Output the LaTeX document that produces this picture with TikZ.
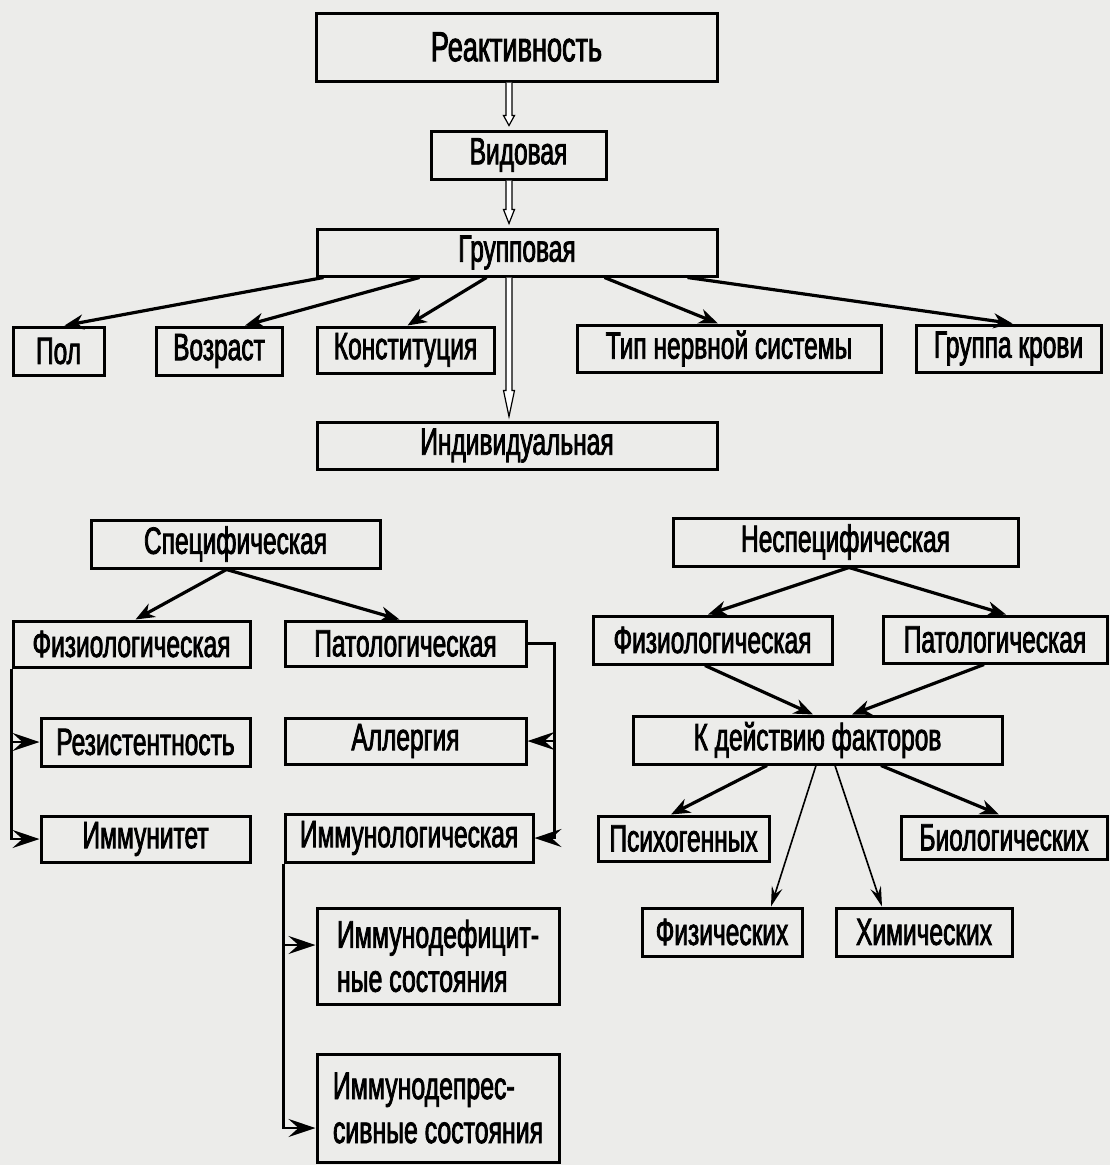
\documentclass[tikz,border=0pt]{standalone}
\usepackage{fontspec}
\setmainfont{Liberation Sans}[FakeStretch=0.645,FakeBold=2]
\usetikzlibrary{arrows.meta,calc}
\definecolor{paper}{RGB}{236,236,234}
\tikzset{
 box/.style={draw, line width=3pt, inner sep=0pt, font=\fontsize{38}{44}\selectfont},
 bigtext/.style={font=\fontsize{42}{48}\selectfont},
 twoline/.style={align=left, font=\fontsize{38.5}{44}\selectfont},
 fatarrow/.style={line width=3.2pt, -{Stealth[length=19pt,width=15pt,inset=6pt]}},
 slimarrow/.style={line width=1.6pt, -{Stealth[length=20pt,width=11pt,inset=7pt]}},
 bracketarrow/.style={line width=2.4pt, -{Stealth[length=27pt,width=18pt,inset=10pt]}},
 hollowstyle/.style={line width=1.2pt, fill=white},
}
\newcommand\hollowarr[3]{%
 \draw[hollowstyle] ($(#1.south -| ax)+(-3,0)$) -- ($(#2.north -| ax)+(-3,-#3-4)$)
  -- ($(#2.north -| ax)+(-5.5,-#3-4)$) -- ($(#2.north -| ax)+(0,-4)$)
  -- ($(#2.north -| ax)+(5.5,-#3-4)$) -- ($(#2.north -| ax)+(3,-#3-4)$)
  -- ($(#1.south -| ax)+(3,0)$);}
\begin{document}
\begin{tikzpicture}[x=1pt,y=-1pt]
\useasboundingbox (0,0) rectangle (1110,1165);
\fill[paper] (0,0) rectangle (1110,1165);
\coordinate (ax) at (509,0);
% top
\node[box,bigtext,minimum width=401,minimum height=68] (react) at (516.5,47) {Реактивность};
\node[box,minimum width=175,minimum height=48] (vid) at (518.5,155) {Видовая};
\node[box,minimum width=400,minimum height=47] (grp) at (517,252.5) {Групповая};
\node[box,minimum width=91,minimum height=48] (pol) at (58.5,351) {Пол};
\node[box,minimum width=126,minimum height=48] (voz) at (219,351) {Возраст};
\node[box,minimum width=177,minimum height=46] (kon) at (405.5,350) {Конституция};
\node[box,minimum width=304,minimum height=47] (tip) at (729,348.5) {Тип нервной системы};
\node[box,minimum width=185,minimum height=47] (krov) at (1008.5,348.5) {Группа крови};
\node[box,minimum width=400,minimum height=47] (ind) at (517,445.5) {Индивидуальная};
% specific
\node[box,minimum width=289,minimum height=48] (spec) at (235.5,544) {Специфическая};
\node[box,minimum width=237,minimum height=46] (fiz1) at (131.5,644) {Физиологическая};
\node[box,minimum width=241,minimum height=45] (pat1) at (405.5,643.5) {Патологическая};
\node[box,minimum width=209,minimum height=48] (rez) at (145.5,742) {Резистентность};
\node[box,minimum width=241,minimum height=46] (all) at (405.5,741) {Аллергия};
\node[box,minimum width=209,minimum height=46] (imm) at (145.5,839) {Иммунитет};
\node[box,minimum width=248,minimum height=48] (imn) at (409,838) {Иммунологическая};
\node[box,twoline,minimum width=242,minimum height=96] (imd) at (438,956) {Иммунодефицит-\\ные состояния};
\node[box,twoline,minimum width=242,minimum height=108] (imp) at (438,1108) {Иммунодепрес-\\сивные состояния};
% nonspecific
\node[box,minimum width=345,minimum height=48] (nspec) at (845.5,542) {Неспецифическая};
\node[box,minimum width=239,minimum height=48] (fiz2) at (712.5,640) {Физиологическая};
\node[box,minimum width=224,minimum height=47] (pat2) at (995,639.5) {Патологическая};
\node[box,minimum width=369,minimum height=48] (kd) at (817.5,740) {К действию факторов};
\node[box,minimum width=171,minimum height=45] (psy) at (683.5,838.5) {Психогенных};
\node[box,minimum width=206,minimum height=43] (bio) at (1004,837.5) {Биологических};
\node[box,minimum width=160,minimum height=48] (fis) at (722,932) {Физических};
\node[box,minimum width=176,minimum height=48] (him) at (924,932) {Химических};
% hollow arrows
\hollowarr{react}{vid}{10}
\hollowarr{vid}{grp}{14}
\hollowarr{grp}{ind}{26}
% group arrows
\draw[fatarrow] ([xshift=8pt]grp.south west) -- ([xshift=6pt]pol.north);
\draw[fatarrow] ([xshift=104pt]grp.south west) -- ([xshift=26pt]voz.north);
\draw[fatarrow] ([xshift=171pt]grp.south west) -- ([xshift=2pt]kon.north);
\draw[fatarrow] ([xshift=289pt]grp.south west) -- ([xshift=-11pt]tip.north);
\draw[fatarrow] ([xshift=372pt]grp.south west) -- ([xshift=4pt]krov.north);
% specific arrows
\draw[fatarrow] ([xshift=-9pt]spec.south) -- ([xshift=4pt]fiz1.north);
\draw[fatarrow] ([xshift=-9pt]spec.south) -- ([xshift=-6pt]pat1.north);
\draw[bracketarrow] (fiz1.south west) |- (rez.west);
\draw[bracketarrow] (fiz1.south west) |- (imm.west);
\coordinate (pr) at ([xshift=27pt]pat1.east);
\draw[bracketarrow] (pat1.east) -- (pr) |- (all.east);
\draw[bracketarrow] (pr) |- (imn.east);
\coordinate (imdin) at ([yshift=11pt]imd.west);
\coordinate (impin) at ([yshift=-20pt]imp.west);
\draw[bracketarrow] (imn.south west) |- (imdin);
\draw[bracketarrow] (imn.south west) |- (impin);
% nonspecific arrows
\draw[fatarrow] ([xshift=3.5pt]nspec.south) -- ([xshift=-4.5pt]fiz2.north);
\draw[fatarrow] ([xshift=3.5pt]nspec.south) -- ([xshift=11pt]pat2.north);
\draw[fatarrow] ([xshift=-7.5pt]fiz2.south) -- ([xshift=-4.5pt]kd.north);
\draw[fatarrow] ([xshift=-11pt]pat2.south) -- ([xshift=34.5pt]kd.north);
\draw[fatarrow] ([xshift=-50.5pt]kd.south) -- ([xshift=-12.5pt]psy.north);
\draw[fatarrow] ([xshift=63.5pt]kd.south) -- ([xshift=-5pt]bio.north);
\draw[slimarrow] ([xshift=-1.5pt]kd.south) -- ([xshift=49pt]fis.north);
\draw[slimarrow] ([xshift=17.5pt]kd.south) -- ([xshift=-42pt]him.north);
\end{tikzpicture}
\end{document}
